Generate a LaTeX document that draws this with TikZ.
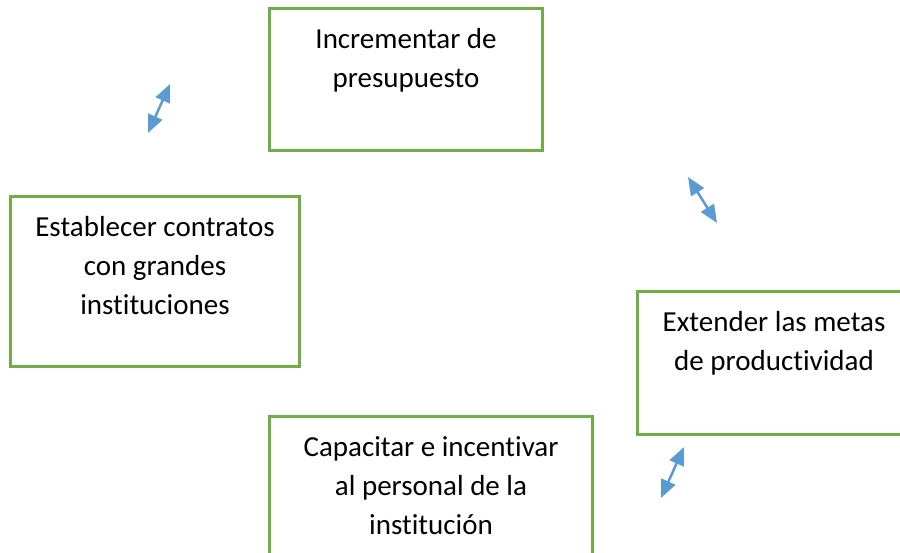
\documentclass[tikz,border=0pt]{standalone}
\usepackage{fontspec}
\setmainfont{Carlito}[Ligatures=NoCommon]
\usetikzlibrary{arrows.meta}
\definecolor{verde}{RGB}{112,173,71}
\definecolor{azul}{RGB}{91,155,213}
\begin{document}
\begin{tikzpicture}[x=1pt,y=-1pt]
  \tikzstyle{caja}=[draw=verde, line width=3pt, fill=white, inner sep=0pt,
  anchor=north west, align=flush center, text height=40pt,
  font=\fontsize{29}{39}\selectfont]
  \tikzstyle{flecha}=[{Triangle[length=18pt,width=15pt]}-{Triangle[length=18pt,width=15pt]},
  draw=azul, fill=azul, line width=2.5pt]
  \useasboundingbox (0,0) rectangle (900,552);
  \clip (0,0) rectangle (900,552);
  \foreach \n/\x/\y/\w/\h/\t in {sup/268/7/273/142/{Incrementar de\\presupuesto},
    izq/9/195/289/170/{Establecer contratos\\con grandes\\instituciones},
    der/636/290/273/143/{Extender las metas\\de productividad},
    inf/268/415/323/150/{Capacitar e incentivar\\al personal de la\\instituci\'on}} {
    \pgfmathsetmacro\d{\h-40}
    \node[caja, minimum width=\w pt, text width=\w pt, text depth=\d pt] (\n) at (\x,\y) {\t};
  }
  \foreach \n/\x/\y in {a1/148/133,a2/170/84,b1/688/177,b2/717/223,c1/684/447,c2/661/498} {
    \coordinate (\n) at (\x,\y);
  }
  \foreach \a/\b in {a1/a2,b1/b2,c1/c2} {
    \draw[flecha] (\a) -- (\b);
  }
\end{tikzpicture}
\end{document}
